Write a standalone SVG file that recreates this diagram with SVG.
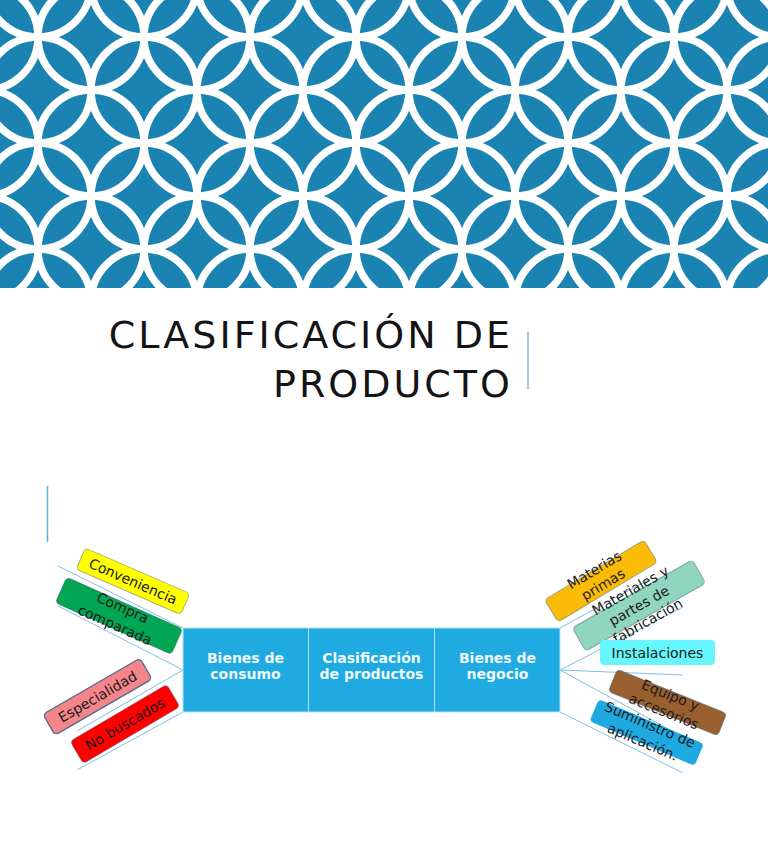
<svg xmlns="http://www.w3.org/2000/svg" width="768" height="866" viewBox="0 0 768 866">
<defs>
<pattern id="circ" x="-15" y="-16" width="106" height="106" patternUnits="userSpaceOnUse">
<rect width="106" height="106" fill="#1a83b1"/>
<g fill="none" stroke="#ffffff" stroke-width="7.5">
<circle cx="53" cy="0" r="53"/><circle cx="0" cy="53" r="53"/><circle cx="106" cy="53" r="53"/><circle cx="53" cy="106" r="53"/>
<circle cx="159" cy="0" r="53"/><circle cx="-53" cy="0" r="53"/><circle cx="0" cy="-53" r="53"/><circle cx="0" cy="159" r="53"/>
<circle cx="106" cy="-53" r="53"/><circle cx="106" cy="159" r="53"/><circle cx="-53" cy="106" r="53"/><circle cx="159" cy="106" r="53"/>
</g>
</pattern>
</defs>
<style>
.lbl{font-family:"DejaVu Sans","Liberation Sans",sans-serif;font-size:14px;fill:#1a1a1a;text-anchor:middle}
.hdr{font-family:"DejaVu Sans","Liberation Sans",sans-serif;font-size:14px;font-weight:bold;fill:#eef7fc;text-anchor:middle}
.ttl{font-family:"DejaVu Sans","Liberation Sans",sans-serif;font-size:38px;fill:#141414;text-anchor:end;letter-spacing:3px}
.con{stroke:#7cc3e3;stroke-width:1;fill:none}
.box{stroke:#3f5a78;stroke-opacity:0.45;stroke-width:1}
.main{fill:#1faae1;stroke:#b5e0f4;stroke-width:1}
</style>
<rect width="768" height="866" fill="#ffffff"/>
<rect id="banner" x="0" y="0" width="768" height="288" fill="url(#circ)"/>
<g id="title">
<text class="ttl" x="513" y="348">CLASIFICACIÓN DE</text>
<text class="ttl" x="513" y="397">PRODUCTO</text>
<line x1="528" y1="332" x2="528" y2="389" stroke="#7fb6cc" stroke-width="1.5"/>
</g>
<line id="accent" x1="47.5" y1="486" x2="47.5" y2="542" stroke="#5fb3d6" stroke-width="1.5"/>
<g id="connectors">
<line class="con" x1="58" y1="566" x2="183" y2="628"/>
<line class="con" x1="58" y1="606" x2="183" y2="670"/>
<line class="con" x1="183" y1="670" x2="77" y2="731"/>
<line class="con" x1="183" y1="712" x2="77" y2="770"/>
<line class="con" x1="560" y1="628" x2="648" y2="580"/>
<line class="con" x1="560" y1="670" x2="683" y2="607"/>
<line class="con" x1="560" y1="670" x2="683" y2="675"/>
<line class="con" x1="560" y1="670" x2="683" y2="737"/>
<line class="con" x1="560" y1="712" x2="683" y2="773"/>
</g>
<g id="conveniencia" transform="translate(133,581.3) rotate(23.5)">
<rect class="box" x="-57" y="-11.5" width="114" height="23" rx="4" fill="#ffff00"/>
<text class="lbl" x="0" y="5">Conveniencia</text>
</g>
<g id="compra" transform="translate(119,615.8) rotate(24)">
<rect class="box" x="-63.5" y="-14" width="127" height="28" rx="4" fill="#00a651"/>
<text class="lbl" x="0" y="-4">Compra</text>
<text class="lbl" x="0" y="15">comparada</text>
</g>
<g id="especialidad" transform="translate(97.5,696.7) rotate(-30)">
<rect x="-56" y="-12" width="112" height="24" rx="4" fill="#f4868a" stroke="#4d6a8c" stroke-width="1.3"/>
<text class="lbl" x="0" y="5">Especialidad</text>
</g>
<g id="nobuscados" transform="translate(125,724) rotate(-30.5)">
<rect class="box" x="-56" y="-13" width="112" height="26" rx="4" fill="#ff0000"/>
<text class="lbl" x="0" y="5">No buscados</text>
</g>
<g id="materias" transform="translate(601,581) rotate(-31)">
<rect class="box" x="-58" y="-13" width="116" height="26" rx="4" fill="#fbbc06"/>
<text class="lbl" x="0" y="-8">Materias</text>
<text class="lbl" x="0" y="9">primas</text>
</g>
<g id="materiales" transform="translate(639,605.5) rotate(-29.5)">
<rect class="box" x="-69" y="-13.5" width="138" height="27" rx="4" fill="#90d5be"/>
<text class="lbl" x="0" y="-12.5">Materiales y</text>
<text class="lbl" x="0" y="5">partes de</text>
<text class="lbl" x="0" y="22.5">fabricación</text>
</g>
<g id="instalaciones">
<rect x="600" y="640" width="115" height="25" rx="4" fill="#66f6fb"/>
<text class="lbl" x="657.5" y="658">Instalaciones</text>
</g>
<g id="equipo" transform="translate(667.5,702.5) rotate(22)">
<rect class="box" x="-59" y="-12" width="118" height="24" rx="4" fill="#9a5f2e"/>
<text class="lbl" x="0" y="-3">Equipo y</text>
<text class="lbl" x="0" y="14.5">accesorios</text>
</g>
<g id="suministro" transform="translate(646.7,732.5) rotate(23)">
<rect x="-57" y="-12" width="114" height="24" rx="4" fill="#1fa9e1"/>
<text class="lbl" x="0" y="-3.5">Suministro de</text>
<text class="lbl" x="0" y="15">aplicación.</text>
</g>
<g id="bienes-consumo">
<rect class="main" x="183" y="628" width="125.5" height="84"/>
<text class="hdr" x="245.5" y="663">Bienes de</text>
<text class="hdr" x="245.5" y="679">consumo</text>
</g>
<g id="clasificacion">
<rect class="main" x="308.5" y="628" width="126" height="84"/>
<text class="hdr" x="371.5" y="663">Clasificación</text>
<text class="hdr" x="371.5" y="679">de productos</text>
</g>
<g id="bienes-negocio">
<rect class="main" x="434.5" y="628" width="125.5" height="84"/>
<text class="hdr" x="497.5" y="663">Bienes de</text>
<text class="hdr" x="497.5" y="679">negocio</text>
</g>
</svg>
